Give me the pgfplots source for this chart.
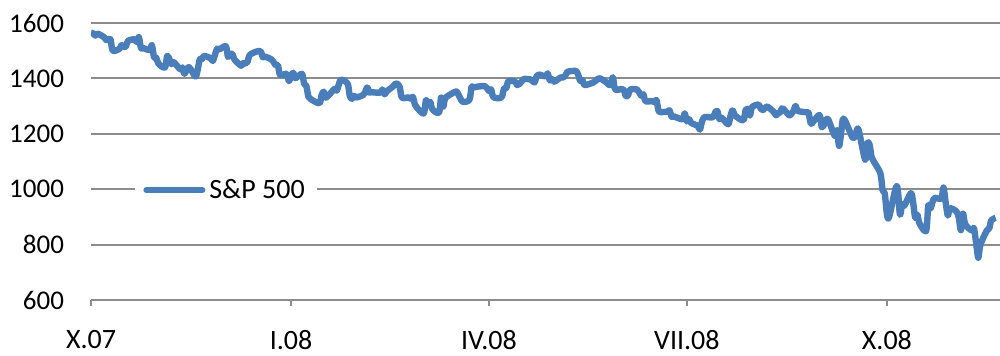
\documentclass[border=0pt]{standalone}
\usepackage{fontspec}
\setmainfont{Carlito}
\usepackage{pgfplots}
\pgfplotsset{compat=1.18}
\usepgfplotslibrary{dateplot}
\definecolor{spblue}{HTML}{4A7EBB}
\definecolor{gridgray}{HTML}{8C8C8C}
\begin{document}
\begin{tikzpicture}
\begin{axis}[
  anchor=south west, at={(0,0)},
  width=454.5pt, height=138.5pt, scale only axis,
  date coordinates in=x, date ZERO=2007-10-09,
  xmin=2007-10-09, xmax=2008-11-30,
  ymin=600, ymax=1600,
  xtick={2007-10-09,2008-01-09,2008-04-09,2008-07-09,2008-10-09},
  xticklabels={X.07,I.08,IV.08,VII.08,X.08},
  ytick={600,800,1000,1200,1400,1600},
  axis x line*=bottom, axis y line*=left,
  x axis line style={draw=gridgray, line width=1pt, -},
  y axis line style={draw=none, -},
  ymajorgrids, grid style={draw=gridgray, line width=1pt},
  xtick style={draw=gridgray, line width=1pt},
  ytick style={draw=none},
  tick align=outside, major tick length=3pt,
  /pgf/number format/assume math mode=true,
  /pgf/number format/1000 sep={},
  yticklabel style={font=\fontsize{13.5}{15}\selectfont, text=black, xshift=-7pt},
  xticklabel style={font=\fontsize{14}{16}\selectfont, text=black, yshift=-8.5pt},
  legend style={at={(0.0484,0.397)}, anchor=west, draw=none, fill=white,
    font=\fontsize{14}{16}\selectfont, inner xsep=4pt, inner ysep=2pt},
  legend image code/.code={\draw[line cap=round, line width=3pt, spblue] (0pt,0pt) -- (28pt,0pt);},
  legend cell align=left,
]
\addplot[spblue, line width=3.2pt, smooth, line join=round] table[x=date, y=close] {
date close
2007-10-09 1565.15
2007-10-10 1562.47
2007-10-11 1554.41
2007-10-12 1561.80
2007-10-15 1548.71
2007-10-16 1538.53
2007-10-17 1541.24
2007-10-18 1540.08
2007-10-19 1500.63
2007-10-22 1506.33
2007-10-23 1519.59
2007-10-24 1515.88
2007-10-25 1514.40
2007-10-26 1535.28
2007-10-29 1540.98
2007-10-30 1531.02
2007-10-31 1549.38
2007-11-01 1508.44
2007-11-02 1509.65
2007-11-05 1502.17
2007-11-06 1520.27
2007-11-07 1475.62
2007-11-08 1474.77
2007-11-09 1453.70
2007-11-12 1439.18
2007-11-13 1481.05
2007-11-14 1470.58
2007-11-15 1451.15
2007-11-16 1458.74
2007-11-19 1433.27
2007-11-20 1439.70
2007-11-21 1416.77
2007-11-23 1440.70
2007-11-26 1407.22
2007-11-27 1428.23
2007-11-28 1469.02
2007-11-29 1469.72
2007-11-30 1481.14
2007-12-03 1472.42
2007-12-04 1462.79
2007-12-05 1485.01
2007-12-06 1507.34
2007-12-07 1504.66
2007-12-10 1515.96
2007-12-11 1477.65
2007-12-12 1486.59
2007-12-13 1488.41
2007-12-14 1467.95
2007-12-17 1445.90
2007-12-18 1454.98
2007-12-19 1453.00
2007-12-20 1460.12
2007-12-21 1484.46
2007-12-24 1496.45
2007-12-26 1497.66
2007-12-27 1476.27
2007-12-28 1478.49
2007-12-31 1468.36
2008-01-02 1447.16
2008-01-03 1447.16
2008-01-04 1411.63
2008-01-07 1416.18
2008-01-08 1390.19
2008-01-09 1409.13
2008-01-10 1420.33
2008-01-11 1401.02
2008-01-14 1416.25
2008-01-15 1380.95
2008-01-16 1373.20
2008-01-17 1333.25
2008-01-18 1325.19
2008-01-22 1310.50
2008-01-23 1338.60
2008-01-24 1352.07
2008-01-25 1330.61
2008-01-28 1353.97
2008-01-29 1362.30
2008-01-30 1355.81
2008-01-31 1378.55
2008-02-01 1395.42
2008-02-04 1380.82
2008-02-05 1336.64
2008-02-06 1326.45
2008-02-07 1336.91
2008-02-08 1331.29
2008-02-11 1339.13
2008-02-12 1348.86
2008-02-13 1367.21
2008-02-14 1348.86
2008-02-15 1349.99
2008-02-19 1348.78
2008-02-20 1360.03
2008-02-21 1342.53
2008-02-22 1353.11
2008-02-25 1371.80
2008-02-26 1381.29
2008-02-27 1380.02
2008-02-28 1367.68
2008-02-29 1330.63
2008-03-03 1331.34
2008-03-04 1326.75
2008-03-05 1333.70
2008-03-06 1304.34
2008-03-07 1293.37
2008-03-10 1273.37
2008-03-11 1320.65
2008-03-12 1308.77
2008-03-13 1315.48
2008-03-14 1288.14
2008-03-17 1276.60
2008-03-18 1330.74
2008-03-19 1298.42
2008-03-20 1329.51
2008-03-24 1349.88
2008-03-25 1352.99
2008-03-26 1341.13
2008-03-27 1325.76
2008-03-28 1315.22
2008-03-31 1322.70
2008-04-01 1370.18
2008-04-02 1367.53
2008-04-03 1369.31
2008-04-04 1370.40
2008-04-07 1372.54
2008-04-08 1365.54
2008-04-09 1354.49
2008-04-10 1360.55
2008-04-11 1332.83
2008-04-14 1328.32
2008-04-15 1334.43
2008-04-16 1364.71
2008-04-17 1365.56
2008-04-18 1390.33
2008-04-21 1388.17
2008-04-22 1375.94
2008-04-23 1379.93
2008-04-24 1388.82
2008-04-25 1397.84
2008-04-28 1396.37
2008-04-29 1390.94
2008-04-30 1385.59
2008-05-01 1409.34
2008-05-02 1413.90
2008-05-05 1407.49
2008-05-06 1418.26
2008-05-07 1392.57
2008-05-08 1397.68
2008-05-09 1388.28
2008-05-12 1403.58
2008-05-13 1403.04
2008-05-14 1408.66
2008-05-15 1423.57
2008-05-16 1425.35
2008-05-19 1426.63
2008-05-20 1413.40
2008-05-21 1390.71
2008-05-22 1394.35
2008-05-23 1375.93
2008-05-27 1385.35
2008-05-28 1390.84
2008-05-29 1398.26
2008-05-30 1400.38
2008-06-02 1385.67
2008-06-03 1377.65
2008-06-04 1377.20
2008-06-05 1404.05
2008-06-06 1360.68
2008-06-09 1361.76
2008-06-10 1358.44
2008-06-11 1335.49
2008-06-12 1339.87
2008-06-13 1360.03
2008-06-16 1360.14
2008-06-17 1350.93
2008-06-18 1337.81
2008-06-19 1342.83
2008-06-20 1317.93
2008-06-23 1318.00
2008-06-24 1314.29
2008-06-25 1321.97
2008-06-26 1283.15
2008-06-27 1278.38
2008-06-30 1280.00
2008-07-01 1284.91
2008-07-02 1261.52
2008-07-03 1262.90
2008-07-07 1252.31
2008-07-08 1273.70
2008-07-09 1244.69
2008-07-10 1253.39
2008-07-11 1239.49
2008-07-14 1228.30
2008-07-15 1214.91
2008-07-16 1245.36
2008-07-17 1260.32
2008-07-18 1260.68
2008-07-21 1260.00
2008-07-22 1277.00
2008-07-23 1282.19
2008-07-24 1252.54
2008-07-25 1257.76
2008-07-28 1234.37
2008-07-29 1263.20
2008-07-30 1284.26
2008-07-31 1267.38
2008-08-01 1260.31
2008-08-04 1249.01
2008-08-05 1284.88
2008-08-06 1289.19
2008-08-07 1266.07
2008-08-08 1296.32
2008-08-11 1305.32
2008-08-12 1289.59
2008-08-13 1285.83
2008-08-14 1292.93
2008-08-15 1298.20
2008-08-18 1278.60
2008-08-19 1266.69
2008-08-20 1274.54
2008-08-21 1277.72
2008-08-22 1292.20
2008-08-25 1266.84
2008-08-26 1271.51
2008-08-27 1281.66
2008-08-28 1300.68
2008-08-29 1282.83
2008-09-02 1277.58
2008-09-03 1274.98
2008-09-04 1236.83
2008-09-05 1242.31
2008-09-08 1267.79
2008-09-09 1224.51
2008-09-10 1232.04
2008-09-11 1249.05
2008-09-12 1251.70
2008-09-15 1192.70
2008-09-16 1213.60
2008-09-17 1156.39
2008-09-18 1206.51
2008-09-19 1255.08
2008-09-22 1207.09
2008-09-23 1188.22
2008-09-24 1185.87
2008-09-25 1209.18
2008-09-26 1213.27
2008-09-29 1106.42
2008-09-30 1166.36
2008-10-01 1161.06
2008-10-02 1114.28
2008-10-03 1099.23
2008-10-06 1056.89
2008-10-07 996.23
2008-10-08 984.94
2008-10-09 909.92
2008-10-10 899.22
2008-10-13 1003.35
2008-10-14 998.01
2008-10-15 907.84
2008-10-16 946.43
2008-10-17 940.55
2008-10-20 985.40
2008-10-21 955.05
2008-10-22 896.78
2008-10-23 908.11
2008-10-24 876.77
2008-10-27 848.92
2008-10-28 940.51
2008-10-29 930.09
2008-10-30 954.09
2008-10-31 968.75
2008-11-03 966.30
2008-11-04 1005.75
2008-11-05 952.77
2008-11-06 904.88
2008-11-07 930.99
2008-11-10 919.21
2008-11-11 898.95
2008-11-12 852.30
2008-11-13 911.29
2008-11-14 873.29
2008-11-17 850.75
2008-11-18 859.12
2008-11-19 806.58
2008-11-20 752.44
2008-11-21 800.03
2008-11-24 851.81
2008-11-25 857.39
2008-11-26 887.68
2008-11-28 896.24
};
\addlegendentry{S\&P 500}
\end{axis}
\pgfresetboundingbox
\useasboundingbox (-45.5pt,-28pt) rectangle (454.5pt,150pt);
\end{tikzpicture}
\end{document}
